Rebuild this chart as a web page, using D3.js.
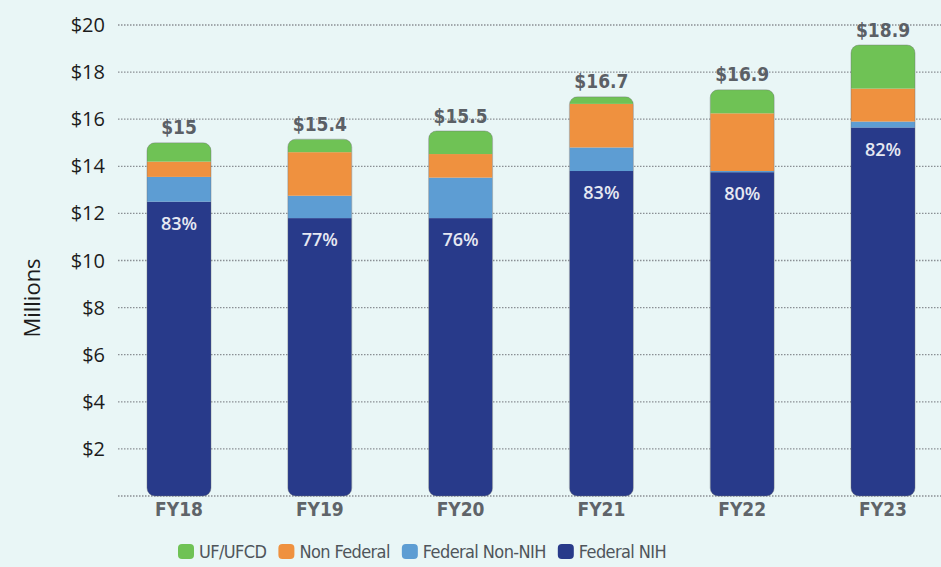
<!DOCTYPE html>
<html>
<head>
<meta charset="utf-8">
<script src="https://cdn.jsdelivr.net/npm/d3@7"></script>
<style>
  body { margin: 0; background: #e9f6f6; }
  svg { display: block; }
</style>
</head>
<body>
<div id="chart"></div>
<script>
// data ($ millions)
const years = ["FY18", "FY19", "FY20", "FY21", "FY22", "FY23"];
const federalNIH = [12.5, 11.8, 11.8, 13.8, 13.75, 15.65];
const federalNonNIH = [1.05, 0.95, 1.72, 1.0, 0.05, 0.25];
const nonFederal = [0.65, 1.85, 1.0, 1.85, 2.45, 1.4];
const ufufcd = [0.8, 0.55, 0.98, 0.3, 1.0, 1.85];
const totalLabels = ["$15", "$15.4", "$15.5", "$16.7", "$16.9", "$18.9"];
const pctLabels = ["83%", "77%", "76%", "83%", "80%", "82%"];
const yTicks = [2, 4, 6, 8, 10, 12, 14, 16, 18, 20];

const seriesNames = ["Federal NIH", "Federal Non-NIH", "Non Federal", "UF/UFCD"];
const colors = {
  "Federal NIH": "#283a8a",
  "Federal Non-NIH": "#5d9dd3",
  "Non Federal": "#ef913f",
  "UF/UFCD": "#6fc255"
};
const legendOrder = ["UF/UFCD", "Non Federal", "Federal Non-NIH", "Federal NIH"];

var width = 941, height = 567;
var narrow = "'DejaVu Sans Condensed', 'Liberation Sans Narrow', 'Open Sans', sans-serif";
var plain = "'Open Sans', 'Noto Sans', sans-serif";

// build rows for d3.stack
var rows = years.map((yr, i) => ({
  year: yr,
  "Federal NIH": federalNIH[i],
  "Federal Non-NIH": federalNonNIH[i],
  "Non Federal": nonFederal[i],
  "UF/UFCD": ufufcd[i]
}));

var stacked = d3.stack().keys(seriesNames)(rows);
var tops = stacked[stacked.length - 1];

const svg = d3.select("#chart")
  .append("svg")
  .attr("width", width)
  .attr("height", height);

var x = d3.scalePoint()
  .domain(years)
  .range([179, 883]);
var barW = 64;

var y = d3.scaleLinear()
  .domain([0, 20])
  .range([496, 25]);

// gridlines + baseline
svg.append("g")
  .selectAll("line")
  .data([0].concat(yTicks))
  .enter()
  .append("line")
  .attr("x1", 118)
  .attr("x2", width)
  .attr("y1", d => y(d))
  .attr("y2", d => y(d))
  .attr("stroke", "#8a8f94")
  .attr("stroke-width", 1.3)
  .attr("stroke-dasharray", "1.5,1.5");

// y tick labels
svg.append("g")
  .selectAll("text")
  .data(yTicks)
  .enter()
  .append("text")
  .attr("x", 105)
  .attr("y", d => y(d))
  .attr("dy", "0.35em")
  .attr("text-anchor", "end")
  .attr("font-family", plain)
  .attr("font-size", "20px")
  .attr("fill", "#1c1c1c")
  .text(d => "$" + d);

// axis title
svg.append("text")
  .attr("transform", "translate(40," + 298 + ")rotate(-90)")
  .attr("text-anchor", "middle")
  .attr("font-family", plain)
  .attr("font-size", "22px")
  .attr("fill", "#1c1c1c")
  .text("Millions");

// clip paths so the whole stack gets rounded corners
var defs = svg.append("defs");
years.forEach((yr, i) => {
  defs.append("clipPath")
    .attr("id", "clip-" + yr)
    .append("rect")
    .attr("x", x(yr) - barW / 2)
    .attr("y", y(tops[i][1]))
    .attr("width", barW)
    .attr("height", y(0) - y(tops[i][1]))
    .attr("rx", 8);
});

var layers = svg.selectAll(".layer")
  .data(stacked)
  .enter()
  .append("g")
  .attr("class", "layer")
  .attr("fill", d => colors[d.key]);

layers.selectAll("rect")
  .data(d => d)
  .enter()
  .append("rect")
  .attr("clip-path", d => "url(#clip-" + d.data.year + ")")
  .attr("x", d => x(d.data.year) - barW / 2)
  .attr("y", d => y(d[1]))
  .attr("width", barW)
  .attr("height", d => y(d[0]) - y(d[1]));

// faint outline around each bar
svg.append("g")
  .selectAll("rect")
  .data(years)
  .enter()
  .append("rect")
  .attr("x", d => x(d) - barW / 2)
  .attr("y", (d, i) => y(tops[i][1]))
  .attr("width", barW)
  .attr("height", (d, i) => y(0) - y(tops[i][1]))
  .attr("rx", 8)
  .attr("fill", "none")
  .attr("stroke", "#6b6f73")
  .attr("stroke-opacity", 0.4)
  .attr("stroke-width", 1);

// totals above bars
svg.append("g")
  .selectAll("text")
  .data(years)
  .enter()
  .append("text")
  .attr("x", d => x(d))
  .attr("y", (d, i) => y(tops[i][1]) - 15)
  .attr("dy", "0.35em")
  .attr("text-anchor", "middle")
  .attr("font-family", narrow)
  .attr("font-weight", "bold")
  .attr("font-size", "19px")
  .attr("fill", "#5b6066")
  .text((d, i) => totalLabels[i]);

// percent labels inside NIH segment
svg.append("g")
  .selectAll("text")
  .data(years)
  .enter()
  .append("text")
  .attr("x", d => x(d))
  .attr("y", (d, i) => y(federalNIH[i]) + 22)
  .attr("dy", "0.35em")
  .attr("text-anchor", "middle")
  .attr("font-family", plain)
  .attr("font-weight", 600)
  .attr("font-size", "18px")
  .attr("fill", "#e6e8f2")
  .text((d, i) => pctLabels[i]);

// category labels
svg.append("g")
  .selectAll("text")
  .data(years)
  .enter()
  .append("text")
  .attr("x", d => x(d))
  .attr("y", 509)
  .attr("dy", "0.35em")
  .attr("text-anchor", "middle")
  .attr("font-family", narrow)
  .attr("font-weight", "bold")
  .attr("font-size", "19px")
  .attr("fill", "#5f6469")
  .text(d => d);

// legend
var legend = svg.append("g").attr("class", "legend");
var lx = 178;
legendOrder.forEach((name) => {
  legend.append("rect")
    .attr("x", lx)
    .attr("y", 544)
    .attr("width", 16)
    .attr("height", 15)
    .attr("rx", 4)
    .attr("fill", colors[name]);
  var t = legend.append("text")
    .attr("x", lx + 21)
    .attr("y", 552)
    .attr("dy", "0.35em")
    .attr("font-family", narrow)
    .attr("font-size", "18px")
    .attr("letter-spacing", "-0.6px")
    .attr("fill", "#4f555b")
    .text(name);
  lx = lx + 21 + t.node().getComputedTextLength() + 12;
});
</script>
</body>
</html>
